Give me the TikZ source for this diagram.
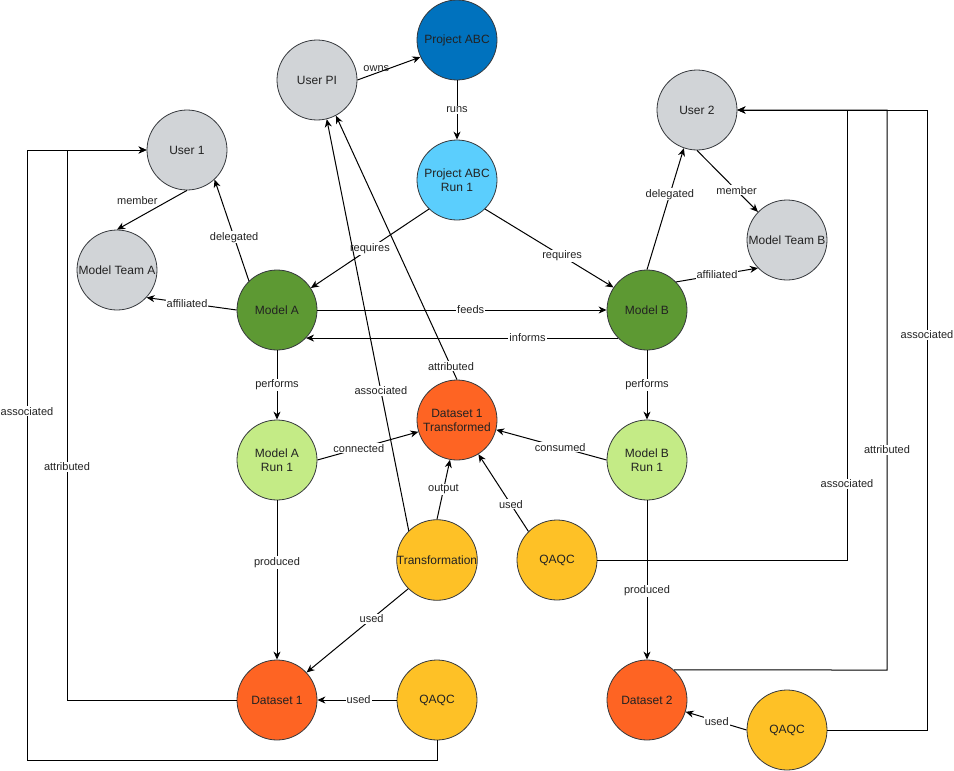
\documentclass[tikz,border=0pt]{standalone}
\usepackage{fontspec}
\setmainfont{Liberation Sans}
\usepackage{tikz}
\usetikzlibrary{arrows.meta}
\definecolor{Stroke}{HTML}{36393D}
\definecolor{Ink}{HTML}{222222}
\definecolor{UserGray}{HTML}{D1D4D7}
\definecolor{ProjBlue}{HTML}{0072BE}
\definecolor{RunBlue}{HTML}{5BCEFD}
\definecolor{ModelGreen}{HTML}{5D9933}
\definecolor{RunGreen}{HTML}{C4EB86}
\definecolor{DataOrange}{HTML}{FE6423}
\definecolor{ActYellow}{HTML}{FEC126}
\tikzset{
  pnode/.style = {circle, draw=Stroke, line width=0.8pt, minimum size=80pt,
    inner sep=0pt, align=center, text=Ink,
    font=\fontsize{12}{14}\selectfont},
  usr/.style = {pnode, fill=UserGray},% users and teams
  proj/.style = {pnode, fill=ProjBlue},% project
  prun/.style = {pnode, fill=RunBlue},% project run
  mdl/.style = {pnode, fill=ModelGreen},% model
  mrun/.style = {pnode, fill=RunGreen},% model run
  data/.style = {pnode, fill=DataOrange},% dataset
  act/.style = {pnode, fill=ActYellow},% activity
  edge/.style = {draw=black, line width=1pt,
    -{Stealth[length=8pt, width=7pt, inset=2.5pt]}},
  lbl/.style = {fill=white, inner sep=1pt, text=Ink,
    font=\fontsize{11}{13}\selectfont}
}

\begin{document}
\begin{tikzpicture}[x=1pt, y=-1pt]
  \useasboundingbox (0,0) rectangle (954,771);

  % nodes
  \node [usr]  (upi)  at (317,80)  {User PI};
  \node [proj] (pabc) at (457,40)  {Project ABC};
  \node [usr]  (u1)   at (187,150) {User 1};
  \node [usr]  (u2)   at (697,110) {User 2};
  \node [prun] (prn)  at (457,180) {Project ABC\\Run 1};
  \node [usr]  (mta)  at (117,270) {Model Team A};
  \node [usr]  (mtb)  at (787,240) {Model Team B};
  \node [mdl]  (ma)   at (277,310) {Model A};
  \node [mdl]  (mb)   at (647,310) {Model B};
  \node [data] (dst)  at (457,420) {Dataset 1\\Transformed};
  \node [mrun] (ra)   at (277,460) {Model A\\Run 1};
  \node [mrun] (rb)   at (647,460) {Model B\\Run 1};
  \node [act]  (trf)  at (437,560) {Transformation};
  \node [act]  (qc_m) at (557,560) {QAQC};
  \node [data] (ds1)  at (277,700) {Dataset 1};
  \node [act]  (qc_a) at (437,700) {QAQC};
  \node [data] (ds2)  at (647,700) {Dataset 2};
  \node [act]  (qc_b) at (787,730) {QAQC};

  % bends of the routed connectors
  \coordinate (a_low) at (27,760);
  \coordinate (a_top) at (27,150);
  \coordinate (b_low) at (67,700);
  \coordinate (b_top) at (67,150);
  \coordinate (c_low) at (847,560);
  \coordinate (c_top) at (847,110);
  \coordinate (d_low) at (887,670);
  \coordinate (d_top) at (887,110);
  \coordinate (e_low) at (927,730);
  \coordinate (e_top) at (927,110);

  % straight connectors
  \draw [edge] (upi.east) -- node [lbl, pos=.3, above=0pt, fill=none] {owns} (pabc.205);
  \draw [edge] (pabc.south) -- node [lbl] {runs} (prn.north);
  \draw [edge] (prn.226) -- node [lbl, pos=.5] {requires} (ma.33);
  \draw [edge] (prn.314) -- node [lbl, pos=.6] {requires} (mb.146);
  \draw [edge] (u1.south) -- node [lbl, pos=.4, above left=0pt, fill=none] {member} (mta.north);
  \draw [edge] (ma.134) -- node [lbl, pos=.43] {delegated} (u1.313);
  \draw [edge] (ma.west) -- node [lbl, pos=.55] {affiliated} (mta.-43);
  \draw [edge] (ma.east) -- node [lbl, pos=.53] {feeds} (mb.west);
  \draw [edge] (mb.224.4) -- node [lbl, pos=.29] {informs} (ma.-44.4);
  \draw [edge] (mb.north) -- node [lbl, pos=.62] {delegated} (u2.251);
  \draw [edge] (u2.south) -- node [lbl, pos=.65] {member} (mtb.136);
  \draw [edge] (mb.44) -- node [lbl, pos=.5] {affiliated} (mtb.224);
  \draw [edge] (ma.south) -- node [lbl] {performs} (ra.north);
  \draw [edge] (mb.south) -- node [lbl] {performs} (rb.north);
  \draw [edge] (ra.east) -- node [lbl, pos=.41] {connected} (dst.197);
  \draw [edge] (rb.west) -- node [lbl, pos=.42] {consumed} (dst.-14);
  \draw [edge] (qc_m.135) -- node [lbl, pos=.35] {used} (dst.-58);
  \draw [edge] (trf.north) -- node [lbl] {output} (dst.260);
  \draw [edge] (trf.225) -- node [lbl, pos=.36] {used} (ds1.43);
  \draw [edge] (trf.134) -- node [lbl, pos=.34] {associated} (upi.284);
  \draw [edge] (dst.north) -- node [lbl, pos=.05] {attributed} (upi.298);
  \draw [edge] (ra.south) -- node [lbl, pos=.39] {produced} (ds1.north);
  \draw [edge] (rb.south) -- node [lbl, pos=.57] {produced} (ds2.north);
  \draw [edge] (qc_a.west) -- node [lbl, pos=.48] {used} (ds1.east);
  \draw [edge] (qc_b.west) -- node [lbl, pos=.49] {used} (ds2.-17);

  % routed connectors
  \draw [edge] (qc_a.south) |- (a_low) -- node [lbl, pos=.572] {associated} (a_top) -- (u1.west);
  \draw [edge] (ds1.west) -- (b_low) -- node [lbl, pos=.424] {attributed} (b_top) -- (u1.west);
  \draw [edge] (qc_m.east) -- (c_low) -- node [lbl, pos=.169] {associated} (c_top) -- (u2.east);
  \draw [edge] (ds2.48.6) -- (d_low) -- node [lbl, pos=.393] {attributed} (d_top) -- (u2.east);
  \draw [edge] (qc_b.east) -- (e_low) -- node [lbl, pos=.637] {associated} (e_top) -- (u2.east);
\end{tikzpicture}
\end{document}
